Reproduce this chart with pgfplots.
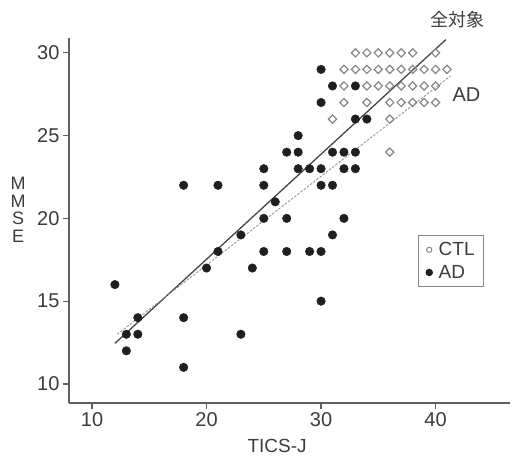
\documentclass[border=0pt]{standalone}
\usepackage{pgfplots}
\pgfplotsset{compat=1.18}
\usepackage{pgfplotstable}
\usepackage{fontspec}
\setmainfont{Liberation Sans}
\newfontfamily\jpfont{Noto Sans CJK JP}
\definecolor{axisgray}{RGB}{95,95,95}
\definecolor{dotblack}{RGB}{28,32,32}
\definecolor{ctlgray}{RGB}{135,135,135}
\definecolor{linegray}{RGB}{70,70,70}
\definecolor{dashgray}{RGB}{150,150,150}
\definecolor{textgray}{RGB}{60,60,60}

\pgfplotstableread{
x y
12 16
13 13
13 12
14 14
14 13
18 22
18 14
18 11
20 17
21 22
21 18
23 19
23 13
24 17
25 23
25 22
25 20
25 18
26 21
27 24
27 20
27 18
28 25
28 24
28 23
29 23
29 18
30 29
30 27
30 23
30 22
30 18
30 15
31 28
31 24
31 22
31 19
32 24
32 23
32 20
33 28
33 26
33 24
33 23
34 26
}\addata

\pgfplotstableread{
x y
33 30
34 30
35 30
36 30
37 30
38 30
40 30
32 29
33 29
34 29
35 29
36 29
37 29
38 29
39 29
40 29
41 29
32 28
34 28
35 28
36 28
37 28
38 28
39 28
40 28
32 27
34 27
36 27
37 27
38 27
39 27
40 27
31 26
36 26
36 24
}\ctldata

\begin{document}
\begin{tikzpicture}
\begin{axis}[
  scale only axis, width=441pt, height=365pt,
  xmin=7.99, xmax=46.5, ymin=8.85, ymax=30.9,
  axis x line=bottom, axis y line=left,
  axis line style={-, axisgray, line width=1.4pt},
  xtick={10,20,30,40}, ytick={10,15,20,25,30},
  tick align=outside, major tick length=6pt,
  tick style={axisgray, line width=1.2pt},
  /pgf/number format/assume math mode=true,
  tick label style={font=\fontsize{20}{24}\selectfont, text=textgray},
  xlabel={TICS-J},
  ylabel={M\\M\\S\\E},
  xlabel style={at={(axis description cs:0.472,-0.118)}, anchor=center, font=\fontsize{19}{22}\selectfont, text=textgray},
  ylabel style={at={(axis description cs:-0.1156,0.529)}, anchor=center, rotate=-90, align=center, font=\fontsize{18}{17.5}\selectfont, text=textgray},
  clip=false,
  legend style={at={(axis cs:38.47,19.0)}, anchor=north west, draw=ctlgray, line width=1pt,
    font=\fontsize{19}{22}\selectfont, text=textgray, inner xsep=7pt, inner ysep=5pt, row sep=4pt},
  legend cell align=left,
]
\addplot[only marks, mark=square, mark size=2.9pt, mark options={draw=ctlgray, line width=1.2pt, fill=white, rotate=45},
  legend image code/.code={\path (0,0) (1.0em,0); \draw[ctlgray, line width=1pt, fill=white] (0.3em,0) circle (2.6pt);}]
  table[x=x,y=y]{\ctldata};
\addlegendentry{CTL}
\addplot[only marks, mark=*, mark size=4.3pt, mark options={draw=dotblack, fill=dotblack},
  legend image code/.code={\path (0,0) (1.0em,0); \fill[dotblack] (0.3em,0) circle (3.2pt);}]
  table[x=x,y=y]{\addata};
\addlegendentry{AD}
\addplot[linegray, line width=1.3pt, forget plot] coordinates {(12.0,12.45) (40.9,30.8)};
\addplot[dashgray, line width=0.9pt, dash pattern=on 2.5pt off 1.5pt, forget plot] coordinates {(12.2,13.0) (41.3,28.6)};
\node[font=\jpfont\fontsize{18}{20}\selectfont, text=textgray] at (axis cs:41.9,32.0) {全対象};
\node[font=\fontsize{20}{24}\selectfont, text=textgray] at (axis cs:42.7,27.45) {AD};
\path (rel axis cs:-0.1565,-0.1534) rectangle (rel axis cs:1.0068,1.104);
\end{axis}
\end{tikzpicture}
\end{document}
